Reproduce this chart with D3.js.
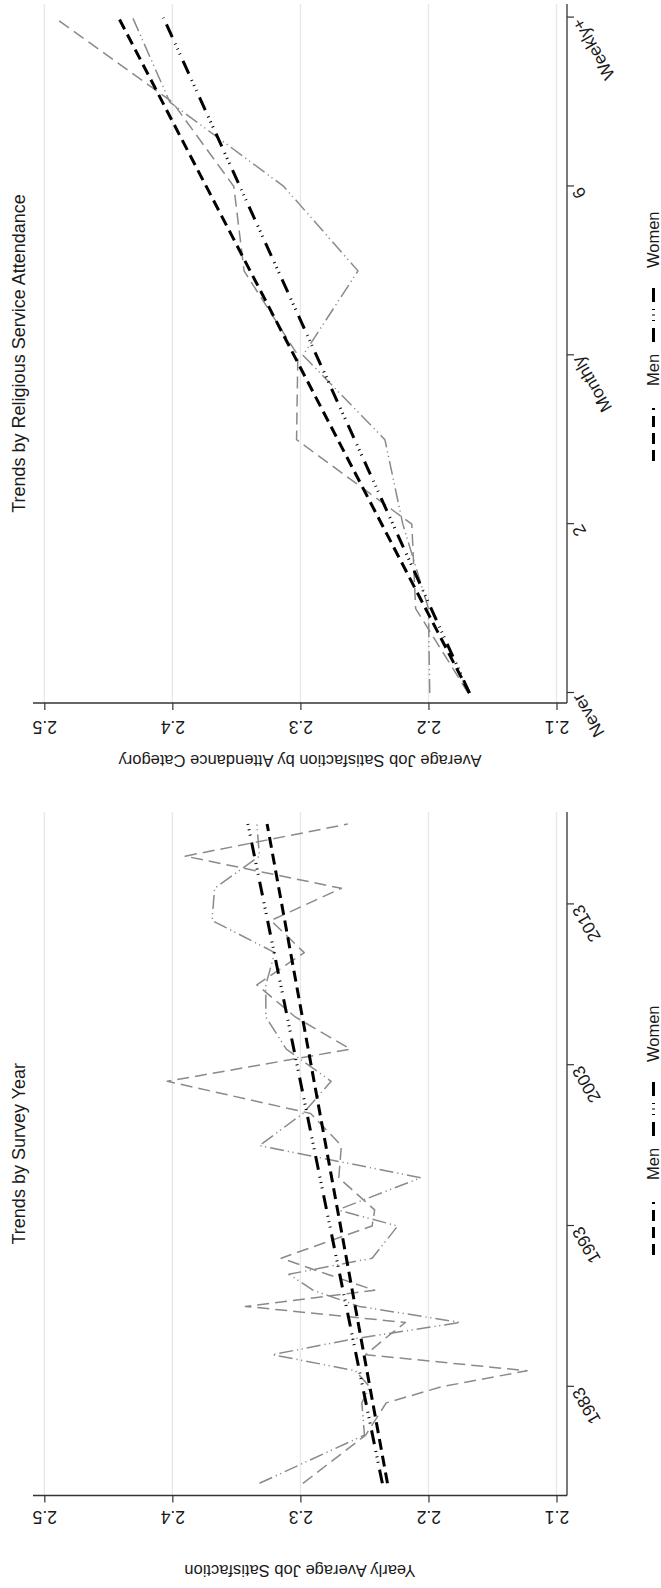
<!DOCTYPE html>
<html>
<head>
<meta charset="utf-8">
<script src="https://cdn.jsdelivr.net/npm/d3@7"></script>
<style>
  body { margin: 0; background: #fff; }
  svg { display: block; }
</style>
</head>
<body>
<svg id="chart" width="661" height="1588"></svg>
<script>
// ---- Survey-year trends ----
const surveyYears = [1977, 1980, 1982, 1983, 1984, 1985, 1986, 1987, 1988, 1989, 1990, 1991, 1993,
                     1994, 1996, 1998, 2000, 2002, 2004, 2006, 2008, 2010, 2012, 2014, 2016, 2018];
const menByYear   = [2.298, 2.249, 2.233, 2.190, 2.123, 2.249, 2.234, 2.218, 2.343, 2.242, 2.279, 2.315, 2.244,
                     2.242, 2.270, 2.268, 2.292, 2.404, 2.261, 2.304, 2.334, 2.297, 2.323, 2.268, 2.390, 2.263];
const womenByYear = [2.332, 2.250, 2.252, 2.246, 2.257, 2.322, 2.257, 2.175, 2.254, 2.290, 2.309, 2.244, 2.224,
                     2.271, 2.206, 2.332, 2.298, 2.276, 2.311, 2.327, 2.327, 2.320, 2.369, 2.367, 2.332, 2.334];
const yearFitEnds   = [1977, 2018];
const menFitByYear   = [2.232, 2.326];
const womenFitByYear = [2.236, 2.341];
const yearTicks = [1983, 1993, 2003, 2013];

// ---- Religious-attendance trends ----
const attendanceLevels = [0, 1, 2, 3, 4, 5, 6, 7, 8];
const menByAttendance   = [2.169, 2.210, 2.213, 2.303, 2.302, 2.344, 2.352, 2.400, 2.492];
const womenByAttendance = [2.199, 2.200, 2.220, 2.234, 2.298, 2.255, 2.313, 2.402, 2.431];
const attendanceFitEnds   = [0, 8];
const menFitByAttendance   = [2.168, 2.442];
const womenFitByAttendance = [2.168, 2.407];
const attendanceTicks = [0, 2, 4, 6, 8];
const attendanceTickLabels = ["Never", "2", "Monthly", "6", "Weekly+"];

// ---- Shared value axis ----
const satisfactionTicks = [2.1, 2.2, 2.3, 2.4, 2.5];
const legendLabels = ["Men", "Women"];

const FONT = '"Liberation Sans", Arial, Helvetica, sans-serif';
const FIG_W = 1588;   // landscape figure width, drawn turned a quarter turn

const svg = d3.select("#chart");
svg.append("rect").attr("width", 661).attr("height", 1588).attr("fill", "#fff");
const root = svg.append("g").attr("transform", `translate(0,${FIG_W}) rotate(-90)`);

const y = d3.scaleLinear().domain([2.1, 2.5]).range([556.5, 44.3]);

const styles = {
  menRaw:   { stroke: "#8a8a8a", width: 1.5, dash: "12,6" },
  womenRaw: { stroke: "#8a8a8a", width: 1.5, dash: "14,4,1.2,3.5,1.2,4" },
  menFit:   { stroke: "#000",    width: 3,   dash: "11,6" },
  womenFit: { stroke: "#000",    width: 3,   dash: "14,7,1,4.5,1,4.5,1,7" }
};

function drawPanel(cfg) {
  const g = root.append("g");
  const x = d3.scaleLinear().domain(cfg.domain).range(cfg.range);

  // horizontal grid at each satisfaction tick
  g.append("g").selectAll("line").data(satisfactionTicks).join("line")
    .attr("x1", cfg.axisStart).attr("x2", cfg.axisEnd)
    .attr("y1", d => y(d)).attr("y2", d => y(d))
    .attr("stroke", "#e3eaed").attr("stroke-width", 1.4);

  const line = d3.line().defined(d => d[1] != null).x(d => x(d[0])).y(d => y(d[1]));
  const series = [
    { pts: d3.zip(cfg.xs, cfg.men), st: styles.menRaw },
    { pts: d3.zip(cfg.xs, cfg.women), st: styles.womenRaw },
    { pts: d3.zip(cfg.fitXs, cfg.menFit), st: styles.menFit },
    { pts: d3.zip(cfg.fitXs, cfg.womenFit), st: styles.womenFit }
  ];
  g.append("g").selectAll("path").data(series).join("path")
    .attr("d", d => line(d.pts))
    .attr("fill", "none")
    .attr("stroke", d => d.st.stroke)
    .attr("stroke-width", d => d.st.width)
    .attr("stroke-dasharray", d => d.st.dash)
    .attr("stroke-linejoin", "round");

  // value axis (left in the landscape frame)
  const yAxis = d3.axisLeft(y).tickValues(satisfactionTicks)
    .tickFormat(d3.format(".1f")).tickSize(7).tickSizeOuter(0);
  const ya = g.append("g").attr("transform", `translate(${cfg.axisStart},0)`).call(yAxis)
    .attr("font-size", 17.5).attr("font-family", FONT).attr("color", "#333");
  ya.select(".domain").remove();
  ya.selectAll(".tick line").attr("stroke-width", 1.2);
  ya.selectAll(".tick text")
    .attr("x", 0).attr("dy", null).attr("y", cfg.labelBaseline - cfg.axisStart)
    .attr("transform", "rotate(-90)").attr("text-anchor", "middle").attr("fill", "#1a1a1a");
  g.append("line").attr("x1", cfg.axisStart).attr("x2", cfg.axisStart)
    .attr("y1", 33).attr("y2", 567).attr("stroke", "#333").attr("stroke-width", 1.3);

  // category / year axis (bottom in the landscape frame)
  const xAxis = d3.axisBottom(x).tickValues(cfg.ticks)
    .tickFormat((d, i) => cfg.tickLabels[i]).tickSize(7).tickSizeOuter(0);
  const xa = g.append("g").attr("transform", "translate(0,567)").call(xAxis)
    .attr("font-size", 17.5).attr("font-family", FONT).attr("color", "#333");
  xa.select(".domain").remove();
  xa.selectAll(".tick line").attr("stroke-width", 1.2);
  xa.selectAll(".tick text")
    .attr("x", 0).attr("y", 0).attr("dy", "0.71em")
    .attr("text-anchor", "end").attr("transform", "translate(-6,4) rotate(-30)")
    .attr("fill", "#1a1a1a");
  g.append("line").attr("x1", cfg.axisStart).attr("x2", cfg.axisEnd)
    .attr("y1", 567).attr("y2", 567).attr("stroke", "#333").attr("stroke-width", 1.3);

  // panel title
  g.append("text").attr("x", (cfg.axisStart + cfg.axisEnd) / 2).attr("y", 25)
    .attr("text-anchor", "middle").attr("font-family", FONT).attr("font-size", 18)
    .attr("fill", "#1a1a1a").text(cfg.title);

  // value-axis title
  g.append("text").attr("transform", `translate(${cfg.yTitleBaseline},300) rotate(-90)`)
    .attr("text-anchor", "middle").attr("font-family", FONT).attr("font-size", 16.5)
    .attr("fill", "#1a1a1a").text(cfg.yTitle);

  // legend
  const lg = g.append("g").attr("transform", `translate(${cfg.offset},0)`);
  const keys = [
    { x0: 333, x1: 386, tx: 408, st: styles.menFit, label: legendLabels[0] },
    { x0: 452, x1: 510, tx: 526, st: styles.womenFit, label: legendLabels[1] }
  ];
  keys.forEach(k => {
    lg.append("line").attr("x1", k.x0).attr("x2", k.x1).attr("y1", 653.5).attr("y2", 653.5)
      .attr("stroke", k.st.stroke).attr("stroke-width", k.st.width)
      .attr("stroke-dasharray", k.st.dash);
    lg.append("text").attr("x", k.tx).attr("y", 659)
      .attr("font-family", FONT).attr("font-size", 16.5).attr("fill", "#1a1a1a").text(k.label);
  });
}

// Survey-year panel (lower half of the page)
drawPanel({
  offset: 0,
  domain: [1977, 2018], range: [104.7, 764],
  axisStart: 92.5, axisEnd: 776,
  labelBaseline: 77, yTitleBaseline: 23,
  xs: surveyYears, men: menByYear, women: womenByYear,
  fitXs: yearFitEnds, menFit: menFitByYear, womenFit: womenFitByYear,
  ticks: yearTicks, tickLabels: yearTicks.map(String),
  title: "Trends by Survey Year",
  yTitle: "Yearly Average Job Satisfaction"
});

// Religious-attendance panel (upper half of the page)
drawPanel({
  offset: 794,
  domain: [0, 8], range: [895, 1570.4],
  axisStart: 885, axisEnd: 1584,
  labelBaseline: 867, yTitleBaseline: 833,
  xs: attendanceLevels, men: menByAttendance, women: womenByAttendance,
  fitXs: attendanceFitEnds, menFit: menFitByAttendance, womenFit: womenFitByAttendance,
  ticks: attendanceTicks, tickLabels: attendanceTickLabels,
  title: "Trends by Religious Service Attendance",
  yTitle: "Average Job Satisfaction by Attendance Category"
});
</script>
</body>
</html>
